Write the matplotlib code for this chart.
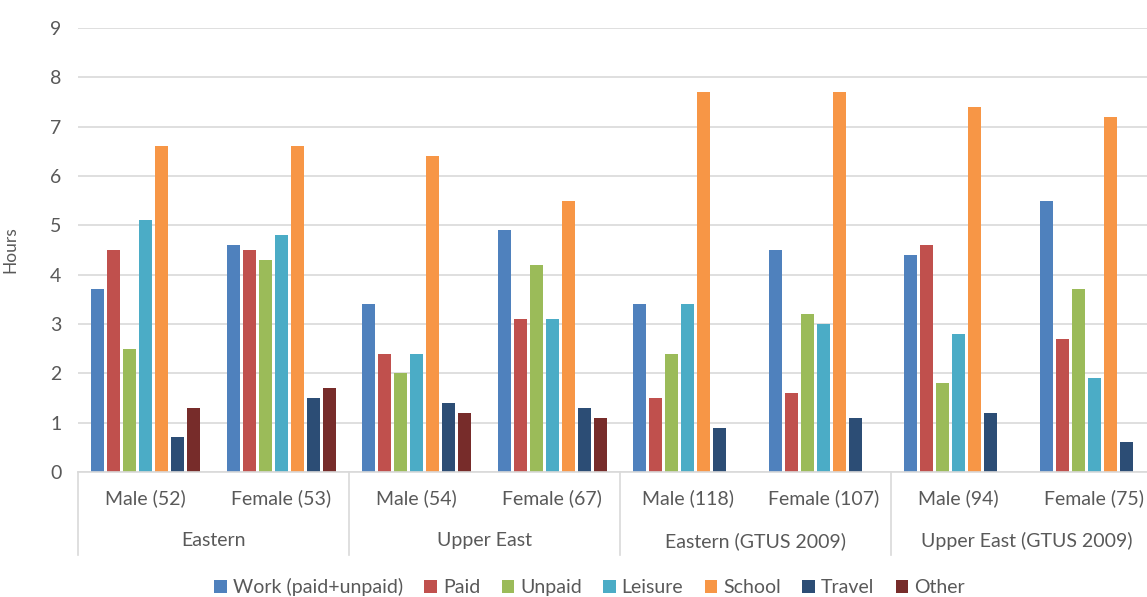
import numpy as np
import matplotlib
matplotlib.use("Agg")
import matplotlib.pyplot as plt
import matplotlib.transforms as mtransforms

plt.rcParams['font.family'] = ['Lato', 'DejaVu Sans']

categories = ["Male (52)", "Female (53)", "Male (54)", "Female (67)",
              "Male (118)", "Female (107)", "Male (94)", "Female (75)"]
groups = ["Eastern", "Upper East", "Eastern (GTUS 2009)", "Upper East (GTUS 2009)"]

series = ["Work (paid+unpaid)", "Paid", "Unpaid", "Leisure", "School", "Travel", "Other"]
work = [3.7, 4.6, 3.4, 4.9, 3.4, 4.5, 4.4, 5.5]
paid = [4.5, 4.5, 2.4, 3.1, 1.5, 1.6, 4.6, 2.7]
unpaid = [2.5, 4.3, 2.0, 4.2, 2.4, 3.2, 1.8, 3.7]
leisure = [5.1, 4.8, 2.4, 3.1, 3.4, 3.0, 2.8, 1.9]
school = [6.6, 6.6, 6.4, 5.5, 7.7, 7.7, 7.4, 7.2]
travel = [0.7, 1.5, 1.4, 1.3, 0.9, 1.1, 1.2, 0.6]
other = [1.3, 1.7, 1.2, 1.1, np.nan, np.nan, np.nan, np.nan]

colors = ["#4F81BD", "#C0504D", "#9BBB59", "#4BACC6", "#F79646", "#2C4D75", "#772C2A"]
text_color = "#595959"
grid_color = "#D9D9D9"
fs = 14

fig = plt.figure(figsize=(11.47, 5.97), dpi=100)
ax = fig.add_axes([0.068, 0.2094, 0.945, 0.7437])

x = np.arange(len(categories))
step = 0.118
width = 0.098
for i, (name, vals) in enumerate(zip(series, [work, paid, unpaid, leisure, school, travel, other])):
    ax.bar(x + (i - 3) * step, vals, width=width, color=colors[i], label=name, zorder=3)

ax.set_xlim(-0.5, len(categories) - 0.5)
ax.set_ylim(0, 9)
ax.set_yticks(range(0, 10))
ax.yaxis.grid(True, color=grid_color, linewidth=1.2, zorder=0)
ax.axhline(0, color=grid_color, linewidth=1.2, zorder=4, clip_on=False)
for s in ax.spines.values():
    s.set_visible(False)
ax.tick_params(axis='y', length=0, pad=12, labelsize=fs, labelcolor=text_color)
ax.set_xticks([])
ax.set_ylabel("Hours", fontsize=12.5, color=text_color)
ax.yaxis.set_label_coords(-0.055, 0.5)

# two-level category axis
trans = mtransforms.blended_transform_factory(ax.transData, ax.transAxes)
for i, c in enumerate(categories):
    ax.text(i, -0.0586, c, transform=trans, ha='center', va='center',
            fontsize=fs, color=text_color)
for j, g in enumerate(groups):
    ax.text(2 * j + 0.5, -0.155, g, transform=trans, ha='center', va='center',
            fontsize=fs, color=text_color)
for b in range(len(groups) + 1):
    ax.plot([2 * b - 0.5, 2 * b - 0.5], [0, -0.187], transform=trans,
            color=grid_color, linewidth=1.2, clip_on=False)

leg = fig.legend(loc='center', bbox_to_anchor=(0.514, 0.017), ncol=7, frameon=False,
                 handlelength=0.65, handleheight=0.65, handletextpad=0.3,
                 columnspacing=1.1, fontsize=fs)
for t in leg.get_texts():
    t.set_color(text_color)

fig.savefig("out.png", dpi=100)
